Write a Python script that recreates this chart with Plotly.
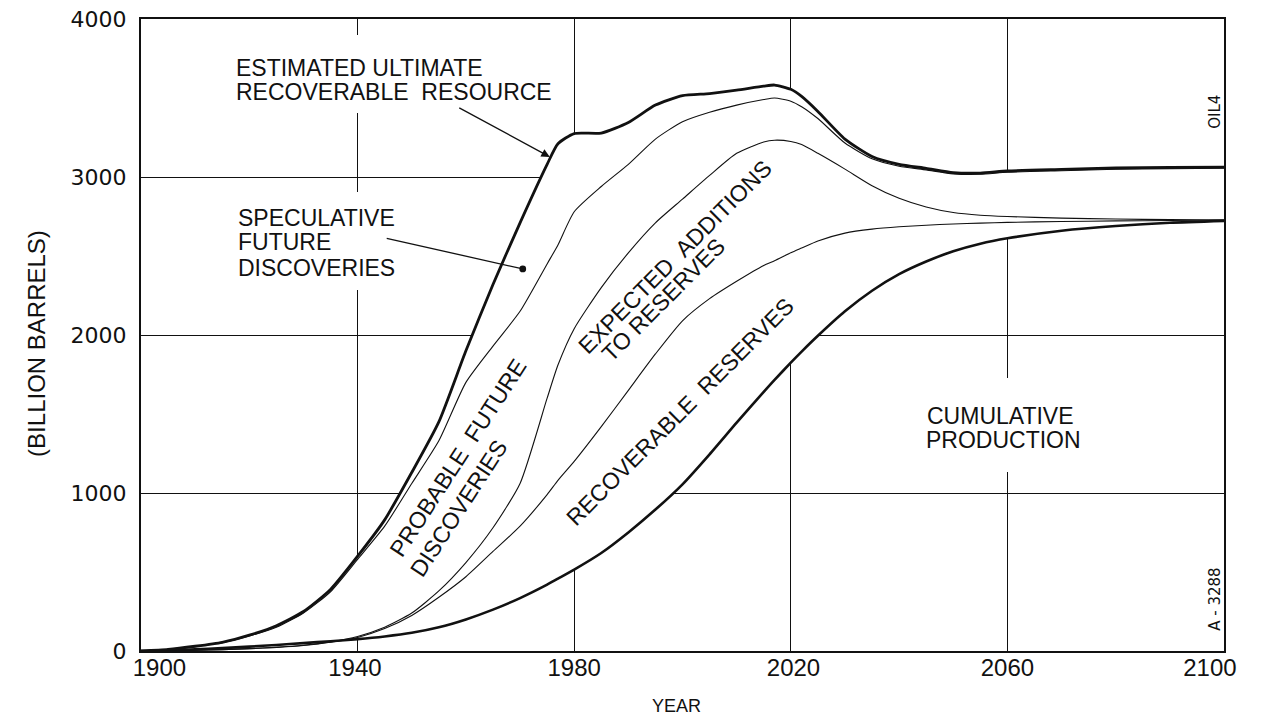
import plotly.graph_objects as go

# ---------------- data ----------------
YEARS = [1900, 1905, 1910, 1915, 1920, 1925, 1930, 1935, 1940, 1945,
         1950, 1955, 1960, 1965, 1970, 1975, 1977, 1980, 1985, 1990,
         1995, 2000, 2005, 2010, 2015, 2017, 2020, 2022, 2025, 2030,
         2035, 2040, 2045, 2050, 2055, 2060, 2070, 2080, 2090, 2100]

# Estimated ultimate recoverable resource (top, thick)
ULTIMATE = [0, 10, 30, 55, 100, 160, 250, 390, 600, 830,
            1130, 1450, 1900, 2320, 2710, 3080, 3210, 3275, 3278, 3345,
            3455, 3515, 3528, 3550, 3575, 3582, 3555, 3510, 3415, 3240,
            3130, 3080, 3055, 3028, 3025, 3038, 3048, 3057, 3060, 3063]

# Top of probable future discoveries
PROBABLE_TOP = [0, 9, 28, 52, 95, 150, 240, 375, 580, 790,
                1060, 1330, 1700, 1930, 2150, 2450, 2570, 2780, 2940, 3080,
                3240, 3350, 3410, 3455, 3490, 3500, 3480, 3445, 3370, 3215,
                3115, 3068, 3045, 3020, 3017, 3030, 3040, 3049, 3052, 3055]

# Top of expected additions to reserves
EXPECTED_TOP = [0, 2, 5, 9, 15, 23, 36, 58, 92, 150,
                240, 380, 560, 780, 1060, 1600, 1810, 2040, 2300, 2520,
                2710, 2860, 3010, 3150, 3222, 3233, 3225, 3205, 3150, 3050,
                2945, 2865, 2810, 2775, 2758, 2750, 2740, 2734, 2730, 2728]

# Top of recoverable reserves
RESERVES_TOP = [0, 2, 5, 9, 15, 23, 35, 55, 86, 142,
                225, 340, 470, 630, 790, 990, 1080, 1200, 1420, 1650,
                1880, 2090, 2230, 2340, 2440, 2470, 2520, 2550, 2595, 2645,
                2670, 2685, 2695, 2703, 2708, 2713, 2718, 2722, 2725, 2728]

# Cumulative production (thick)
CUMULATIVE = [0, 3, 10, 18, 28, 38, 50, 62, 75, 92,
              115, 150, 200, 262, 335, 420, 458, 515, 620, 750,
              895, 1055, 1245, 1445, 1640, 1716, 1825, 1895, 1995, 2150,
              2280, 2385, 2465, 2530, 2578, 2612, 2660, 2690, 2710, 2722]

X_GRID = [1900, 1940, 1980, 2020, 2060, 2100]
X_LABEL_POS = [1903.4, 1939.5, 1980, 2020.5, 2060, 2097.4]   # where the printed year labels sit
X_LABELS = ["1900", "1940", "1980", "2020", "2060", "2100"]
Y_TICKS = [0, 1000, 2000, 3000, 4000]

FONT_FAMILY = "Liberation Sans, Arial, sans-serif"
LABEL_FONT = dict(family=FONT_FAMILY, size=23, color="#111111")
SHAPE = dict(shape="spline", smoothing=0.6)

fig = go.Figure()

# white band between cumulative production and ultimate resource (hides grid)
fig.add_trace(go.Scatter(x=YEARS, y=CUMULATIVE, mode="lines",
                         line=dict(width=0, **SHAPE), hoverinfo="skip", showlegend=False))
fig.add_trace(go.Scatter(x=YEARS, y=ULTIMATE, mode="lines", fill="tonexty",
                         fillcolor="white", line=dict(width=0, **SHAPE),
                         hoverinfo="skip", showlegend=False))

# boundary lines
for ys, w in [(RESERVES_TOP, 1.1), (EXPECTED_TOP, 1.1), (PROBABLE_TOP, 1.1),
              (CUMULATIVE, 2.6), (ULTIMATE, 2.8)]:
    fig.add_trace(go.Scatter(x=YEARS, y=ys, mode="lines",
                             line=dict(color="#111111", width=w, **SHAPE),
                             showlegend=False))

# empty trace carrying the label-only x axis
fig.add_trace(go.Scatter(x=[X_GRID[0], X_GRID[-1]], y=[None, None], xaxis="x2",
                         mode="lines", hoverinfo="skip", showlegend=False))

ann = []

# white masks breaking the grid lines behind the horizontal labels
def mask(x, y, w, h):
    ann.append(dict(x=x, y=y, xref="x", yref="y", text="\u00a0", showarrow=False,
                    width=w, height=h, bgcolor="white", borderpad=0, borderwidth=0,
                    xanchor="center", yanchor="middle"))

mask(1946.4, 3652, 328, 78)
mask(1934.0, 2595, 190, 98)
mask(2059.0, 1430, 175, 94)

def txt(x, y, s, angle=0, xanchor="center"):
    ann.append(dict(x=x, y=y, xref="x", yref="y", text=s, showarrow=False,
                    font=LABEL_FONT, textangle=angle, xanchor=xanchor,
                    yanchor="middle", borderpad=0))

txt(1917.4, 3690, "ESTIMATED ULTIMATE", xanchor="left")
txt(1917.4, 3538, "RECOVERABLE&nbsp;&nbsp;RESOURCE", xanchor="left")

txt(1917.7, 2741, "SPECULATIVE", xanchor="left")
txt(1917.7, 2588, "FUTURE", xanchor="left")
txt(1917.7, 2424, "DISCOVERIES", xanchor="left")

txt(1958.5, 1222, "PROBABLE&nbsp;&nbsp;FUTURE", angle=-57)
txt(1958.7, 905, "DISCOVERIES", angle=-57)

txt(1998.6, 2494, "EXPECTED&nbsp;&nbsp;ADDITIONS", angle=-45)
txt(1996.4, 2222, "TO RESERVES", angle=-45)

txt(1999.5, 1513, "RECOVERABLE&nbsp;&nbsp;RESERVES", angle=-45)

txt(2058.8, 1487, "CUMULATIVE")
txt(2059.2, 1335, "PRODUCTION")

# small drawing codes at right edge
ann.append(dict(x=2098.3, y=3411, xref="x", yref="y", text="OIL4", showarrow=False,
                textangle=-90, font=dict(family="DejaVu Sans", size=15, color="#111111")))
ann.append(dict(x=2098.3, y=329, xref="x", yref="y", text="A - 3288", showarrow=False,
                textangle=-90, font=dict(family="DejaVu Sans", size=15, color="#111111")))

# leader arrows
ann.append(dict(x=1975.5, y=3127, ax=1958.5, ay=3443, xref="x", yref="y",
                axref="x", ayref="y", text="", showarrow=True, arrowhead=2,
                arrowsize=1.3, arrowwidth=1.3, arrowcolor="#111111"))
ann.append(dict(x=1970.5, y=2418, ax=1945.1, ay=2614, xref="x", yref="y",
                axref="x", ayref="y", text="", showarrow=True, arrowhead=6,
                arrowsize=1.3, arrowwidth=1.3, arrowcolor="#111111"))

# axis titles
ann.append(dict(x=-0.096, y=0.486, xref="paper", yref="paper", text="(BILLION BARRELS)",
                showarrow=False, textangle=-90, xanchor="center", yanchor="middle",
                font=dict(family=FONT_FAMILY, size=24, color="#111111")))
ann.append(dict(x=0.494, y=-0.087, xref="paper", yref="paper", text="YEAR",
                showarrow=False, xanchor="center", yanchor="middle",
                font=dict(family=FONT_FAMILY, size=18, color="#111111")))

fig.update_layout(
    width=1268, height=726,
    margin=dict(l=141, r=44, t=19, b=75),
    paper_bgcolor="white", plot_bgcolor="white",
    annotations=ann,
    showlegend=False,
    xaxis2=dict(overlaying="x", anchor="y", side="bottom", range=[1900, 2100],
                tickvals=X_LABEL_POS, ticktext=X_LABELS,
                showgrid=False, showline=False, zeroline=False, ticks="",
                automargin=False, ticklabeloverflow="allow",
                tickfont=dict(family=FONT_FAMILY, size=24, color="#111111")),
)
fig.layout.xaxis.update(range=[1900, 2100], tickvals=X_GRID, showticklabels=False,
                        showgrid=True, gridcolor="#111111", gridwidth=1,
                        showline=True, linecolor="#111111", linewidth=2, mirror=True,
                        zeroline=False, ticks="", automargin=False)
fig.update_yaxes(range=[0, 4000], tickvals=Y_TICKS, ticktext=[str(v) for v in Y_TICKS],
                 showgrid=True, gridcolor="#111111", gridwidth=1,
                 showline=True, linecolor="#111111", linewidth=2, mirror=True,
                 zeroline=False, ticks="", ticklabelstandoff=8, automargin=False,
                 ticklabeloverflow="allow",
                 tickfont=dict(family="DejaVu Sans, sans-serif", size=22, color="#111111"))

# remove the page's default body margin so the figure sits at the window's top-left
fig.write_html("out.html",
               config={"displayModeBar": False},
               post_script="document.body.style.margin='0';document.body.style.overflow='hidden';")
